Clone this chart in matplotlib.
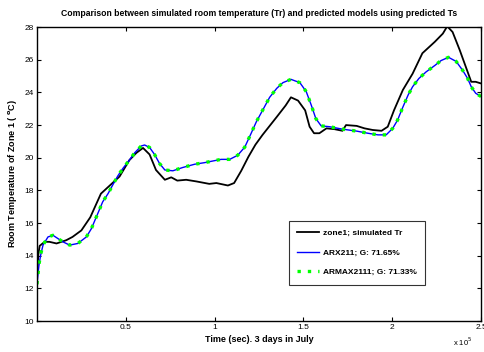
import numpy as np
import matplotlib
matplotlib.use("Agg")
import matplotlib.pyplot as plt

plt.rcParams['font.family'] = ['Liberation Sans', 'DejaVu Sans']

# ---------------------------------------------------------------------------
# Data (time in units of 1e5 s, temperature in degC)
# ---------------------------------------------------------------------------
t_sim = [0.0, 0.004, 0.008, 0.015, 0.043, 0.07, 0.11, 0.165, 0.20, 0.25,
         0.30, 0.36, 0.41, 0.465, 0.52, 0.56, 0.597, 0.634, 0.67, 0.72,
         0.756, 0.79, 0.84, 0.897, 0.97, 1.01, 1.075, 1.11, 1.15, 1.19,
         1.23, 1.27, 1.35, 1.40, 1.43, 1.47, 1.51, 1.535, 1.56, 1.59,
         1.63, 1.675, 1.72, 1.74, 1.80, 1.844, 1.89, 1.94, 1.975, 2.01,
         2.06, 2.115, 2.17, 2.24, 2.285, 2.31, 2.34, 2.38, 2.415, 2.445,
         2.47, 2.5]
tr_sim = [12.9, 13.5, 14.1, 14.6, 14.85, 14.85, 14.75, 14.95, 15.15, 15.55,
          16.35, 17.8, 18.3, 18.85, 19.85, 20.3, 20.6, 20.2, 19.25, 18.65,
          18.8, 18.6, 18.65, 18.55, 18.4, 18.45, 18.3, 18.45, 19.2, 20.05,
          20.8, 21.4, 22.5, 23.2, 23.7, 23.5, 22.9, 21.9, 21.5, 21.5,
          21.8, 21.75, 21.65, 22.0, 21.95, 21.8, 21.7, 21.65, 21.9, 22.9,
          24.15, 25.15, 26.4, 27.1, 27.6, 28.05, 27.7, 26.6, 25.55, 24.65,
          24.65, 24.55]

t_arx = [0.0, 0.006, 0.011, 0.02, 0.034, 0.062, 0.09, 0.118, 0.146, 0.184,
         0.23, 0.278, 0.306, 0.343, 0.37, 0.40, 0.43, 0.456, 0.484, 0.52,
         0.55, 0.587, 0.606, 0.634, 0.662, 0.69, 0.72, 0.765, 0.82, 0.887,
         0.944, 0.99, 1.037, 1.085, 1.13, 1.17, 1.206, 1.235, 1.27, 1.31,
         1.35, 1.385, 1.43, 1.48, 1.516, 1.545, 1.57, 1.60, 1.647, 1.72,
         1.80, 1.863, 1.92, 1.966, 2.003, 2.03, 2.06, 2.09, 2.115, 2.15,
         2.19, 2.24, 2.275, 2.317, 2.36, 2.397, 2.425, 2.445, 2.47, 2.5]
tr_arx = [12.2, 12.9, 13.4, 14.0, 14.65, 15.15, 15.25, 15.05, 14.85, 14.65,
          14.75, 15.15, 15.65, 16.6, 17.3, 17.8, 18.4, 18.9, 19.35, 19.85,
          20.3, 20.72, 20.78, 20.63, 20.2, 19.65, 19.25, 19.2, 19.4, 19.6,
          19.7, 19.8, 19.9, 19.9, 20.15, 20.65, 21.5, 22.2, 22.9, 23.7,
          24.25, 24.6, 24.8, 24.6, 24.05, 23.2, 22.4, 21.95, 21.9, 21.75,
          21.63, 21.5, 21.4, 21.4, 21.8, 22.3, 23.1, 23.85, 24.35, 24.85,
          25.25, 25.65, 25.95, 26.15, 25.9, 25.35, 24.85, 24.35, 23.95, 23.75]

t_armax = t_arx
tr_armax = [12.25, 12.9, 13.45, 14.05, 14.65, 15.15, 15.25, 15.05, 14.85, 14.65,
            14.75, 15.15, 15.65, 16.6, 17.3, 17.8, 18.4, 18.9, 19.35, 19.85,
            20.3, 20.72, 20.78, 20.63, 20.2, 19.65, 19.25, 19.2, 19.4, 19.6,
            19.7, 19.8, 19.9, 19.9, 20.15, 20.65, 21.5, 22.2, 22.9, 23.7,
            24.25, 24.6, 24.8, 24.6, 24.05, 23.2, 22.4, 21.95, 21.9, 21.75,
            21.63, 21.5, 21.4, 21.4, 21.8, 22.3, 23.1, 23.85, 24.35, 24.85,
            25.25, 25.65, 25.95, 26.15, 25.9, 25.35, 24.85, 24.35, 23.95, 23.75]

labels = ["zone1; simulated Tr", "ARX211; G: 71.65%", "ARMAX2111; G: 71.33%"]
x_ticks = [0.5, 1, 1.5, 2, 2.5]
x_ticklabels = ["0.5", "1", "1.5", "2", "2.5"]
y_ticks = [10, 12, 14, 16, 18, 20, 22, 24, 26, 28]

# ---------------------------------------------------------------------------
# Plot
# ---------------------------------------------------------------------------
fig = plt.figure(figsize=(4.84, 3.52), dpi=100)
ax = fig.add_axes([0.0764, 0.088, 0.9174, 0.835])

ax.plot(t_sim, tr_sim, color="black", lw=1.3, label=labels[0])
ax.plot(t_arx, tr_arx, color="#0000ff", lw=1.0, label=labels[1])
ax.plot(t_armax, tr_armax, color="#00ff00", lw=2.4,
        linestyle=(0, (1, 2.1)), dash_capstyle="butt", label=labels[2])

ax.set_xlim(0, 2.5)
ax.set_ylim(10, 28)
ax.set_xticks(x_ticks)
ax.set_xticklabels(x_ticklabels)
ax.set_yticks(y_ticks)
ax.tick_params(direction="in", top=True, right=True, labelsize=6,
               length=3, width=0.8, pad=2)
for spine in ax.spines.values():
    spine.set_linewidth(1.0)

ax.set_title("Comparison between simulated room temperature (Tr) and predicted models using predicted Ts",
             fontsize=6.2, fontweight="bold", pad=8)
ax.set_xlabel("Time (sec). 3 days in July", fontsize=6.5, fontweight="bold", labelpad=3)
ax.set_ylabel("Room Temperature of Zone 1 ( $^{\\mathbf{o}}$C)", fontsize=6.5,
              fontweight="bold", labelpad=4)
fig.text(0.955, 0.012, "x 10$^5$", fontsize=5.5, ha="center", va="bottom")

leg = ax.legend(loc="lower right", bbox_to_anchor=(0.884, 0.11),
                prop={"size": 6, "weight": "bold"}, frameon=True, fancybox=False,
                edgecolor="black", handlelength=2.6, labelspacing=1.4,
                borderpad=1.0, handletextpad=0.5)
leg.get_frame().set_linewidth(0.8)

plt.savefig("out.png", dpi=100)
